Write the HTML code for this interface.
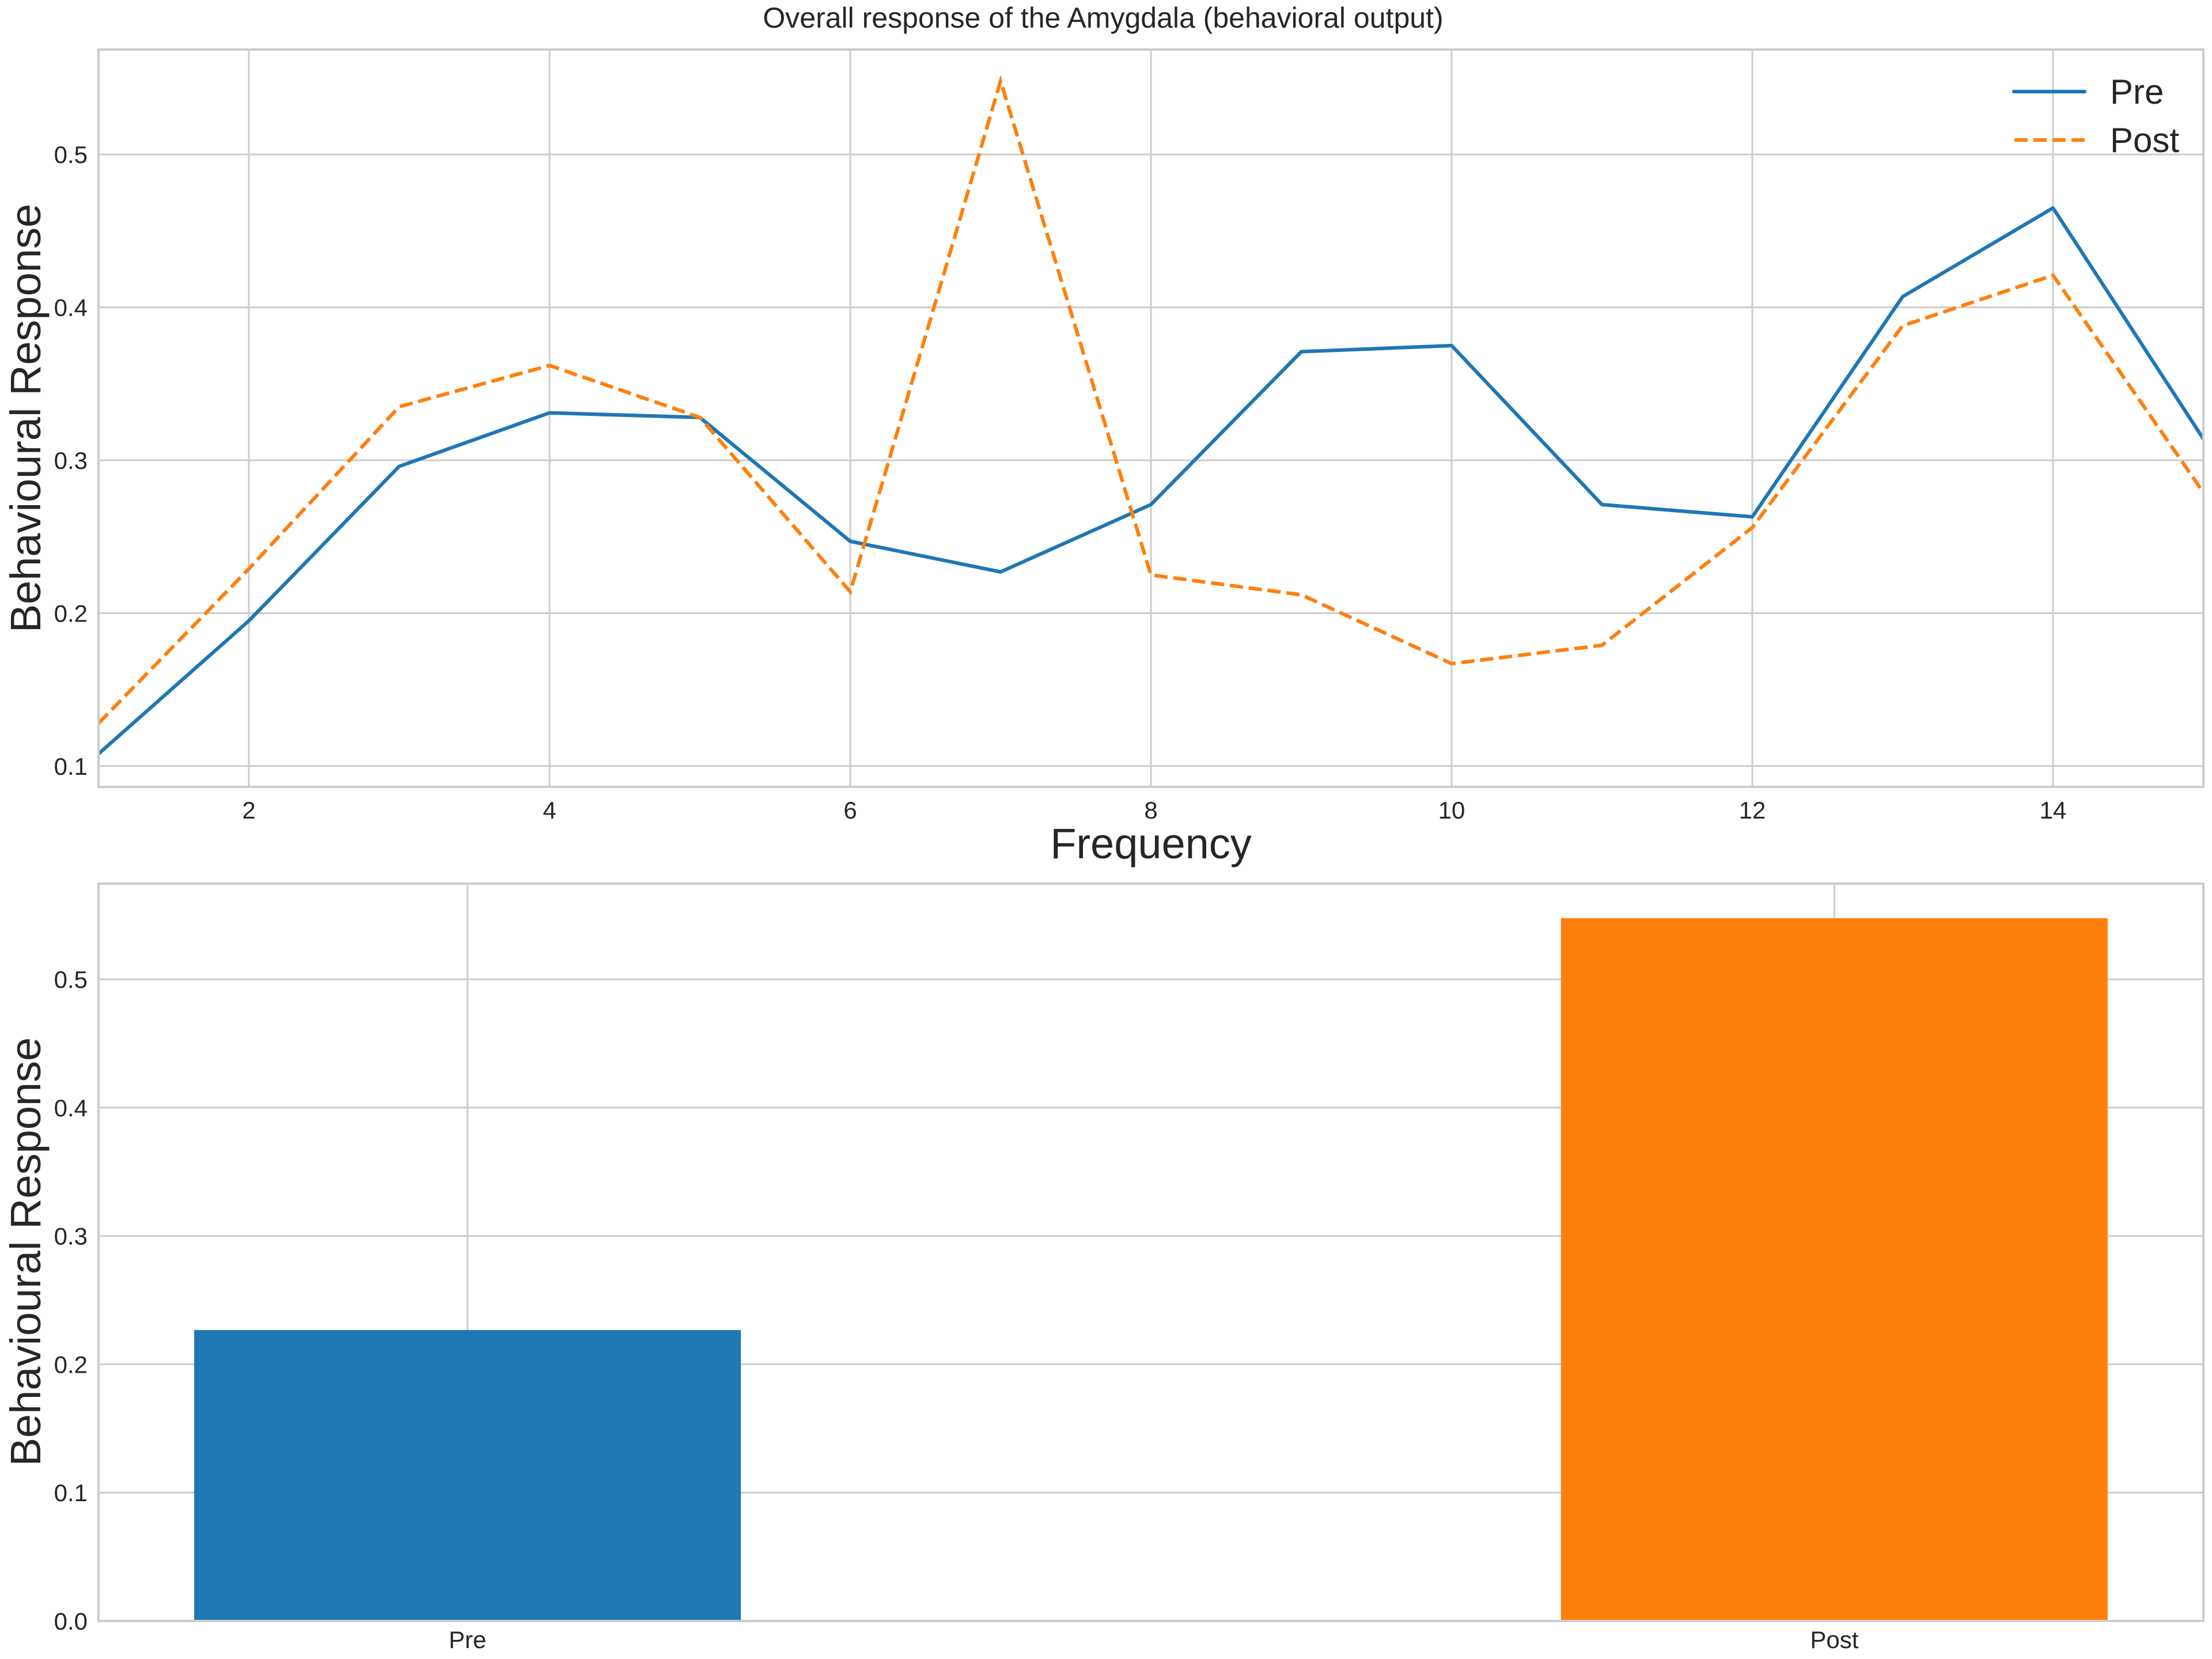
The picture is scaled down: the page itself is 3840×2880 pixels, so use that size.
<!DOCTYPE html>
<html><head><meta charset="utf-8"><style>
html,body{margin:0;padding:0;background:#fff}
svg{display:block}
text{font-family:"Liberation Sans",Arial,sans-serif;fill:#262626}
</style></head><body>
<svg id="chart" width="3840" height="2880" viewBox="0 0 3840 2880" xmlns="http://www.w3.org/2000/svg">
<text x="1915" y="48" font-size="50" text-anchor="middle">Overall response of the Amygdala (behavioral output)</text>
<g id="top"></g>
<g id="bottom"></g>
</svg>
<script>
const freqs = [1,2,3,4,5,6,7,8,9,10,11,12,13,14,15];
const preValues = [0.108,0.195,0.296,0.331,0.328,0.247,0.227,0.271,0.371,0.375,0.271,0.263,0.407,0.465,0.314];
const postValues = [0.128,0.229,0.335,0.362,0.328,0.214,0.548,0.225,0.212,0.167,0.179,0.256,0.388,0.421,0.279];
const topXTicks = [2,4,6,8,10,12,14];
const topYTicks = [0.1,0.2,0.3,0.4,0.5];
const barCategories = ["Pre","Post"];
const barValues = [0.2267,0.5476];
const barYTicks = [0,0.1,0.2,0.3,0.4,0.5];

const NS="http://www.w3.org/2000/svg";
function mk(parent,tag,attrs){const e=document.createElementNS(NS,tag);for(const k in attrs)e.setAttribute(k,attrs[k]);parent.appendChild(e);return e;}

// Top axes
const T={l:171,r:3825,t:86,b:1366,x0:1,x1:15,y0:0.0864,y1:0.5686};
const tx=v=>T.l+(v-T.x0)/(T.x1-T.x0)*(T.r-T.l);
const ty=v=>T.b-(v-T.y0)/(T.y1-T.y0)*(T.b-T.t);
const gTop=document.getElementById('top');


topXTicks.forEach(v=>{
  const l=mk(gTop,'line',{x1:tx(v),x2:tx(v),y1:T.t,y2:T.b,stroke:'#cccccc','stroke-width':3});
  
  
  const t=mk(gTop,'text',{x:tx(v),y:1421,'font-size':42,'text-anchor':'middle'});t.textContent=v;
  
  
});
topYTicks.forEach(v=>{
  const l=mk(gTop,'line',{x1:T.l,x2:T.r,y1:ty(v),y2:ty(v),stroke:'#cccccc','stroke-width':3});
  
  
  const t=mk(gTop,'text',{x:152,y:ty(v)+15,'font-size':42,'text-anchor':'end'});t.textContent=v.toFixed(1);
  
  
});
const clipDef=mk(gTop,'clipPath',{id:'clipTop'});mk(clipDef,'rect',{x:T.l,y:T.t,width:T.r-T.l,height:T.b-T.t});
const prePath=mk(gTop,'polyline',{points:freqs.map((f,i)=>tx(f)+','+ty(preValues[i])).join(' '),fill:'none',stroke:'#1f77b4','stroke-width':6.2,'stroke-linejoin':'round','clip-path':'url(#clipTop)'});


const postPath=mk(gTop,'polyline',{points:freqs.map((f,i)=>tx(f)+','+ty(postValues[i])).join(' '),fill:'none',stroke:'#ff7f0e','stroke-width':6.2,'stroke-dasharray':'23 10','clip-path':'url(#clipTop)'});


const frame1=mk(gTop,'rect',{x:T.l,y:T.t,width:T.r-T.l,height:T.b-T.t,fill:'none',stroke:'#cccccc','stroke-width':4});


const xl=mk(gTop,'text',{x:(T.l+T.r)/2,y:1490,'font-size':74,'text-anchor':'middle'});xl.textContent='Frequency';


const yl=mk(gTop,'text',{x:0,y:0,'font-size':74,'text-anchor':'middle',transform:'translate(70,726) rotate(-90)'});yl.textContent='Behavioural Response';


// legend
const lg=mk(gTop,'g',{});


const le1=mk(lg,'line',{x1:3496,x2:3619,y1:159,y2:159,stroke:'#1f77b4','stroke-width':6.2,'stroke-linecap':'round'});


const lt1=mk(lg,'text',{x:3663,y:180,'font-size':60});lt1.textContent='Pre';


const le2=mk(lg,'line',{x1:3497,x2:3619,y1:243,y2:243,stroke:'#ff7f0e','stroke-width':6.2,'stroke-dasharray':'23 10'});


const lt2=mk(lg,'text',{x:3663,y:264,'font-size':60});lt2.textContent='Post';



// Bottom axes
const B={l:171,r:3825,t:1534,b:2814,x0:-0.27,x1:1.27,y0:0,y1:0.5745};
const bx=v=>B.l+(v-B.x0)/(B.x1-B.x0)*(B.r-B.l);
const by=v=>B.b-(v-B.y0)/(B.y1-B.y0)*(B.b-B.t);
const gB=document.getElementById('bottom');


barCategories.forEach((c,i)=>{
  const l=mk(gB,'line',{x1:bx(i),x2:bx(i),y1:B.t,y2:B.b,stroke:'#cccccc','stroke-width':3});
  
  
  const t=mk(gB,'text',{x:bx(i),y:2861,'font-size':42,'text-anchor':'middle'});t.textContent=c;
  
  
});
barYTicks.forEach(v=>{
  const l=mk(gB,'line',{x1:B.l,x2:B.r,y1:by(v),y2:by(v),stroke:'#cccccc','stroke-width':3});
  
  
  const t=mk(gB,'text',{x:152,y:by(v)+15,'font-size':42,'text-anchor':'end'});t.textContent=v.toFixed(1);
  
  
});
const colors=['#1f77b4','#ff7f0e'];
barValues.forEach((v,i)=>{
  const r=mk(gB,'rect',{x:bx(i-0.2),y:by(v),width:bx(i+0.2)-bx(i-0.2),height:by(0)-by(v),fill:colors[i]});
  
  
});
const frame2=mk(gB,'rect',{x:B.l,y:B.t,width:B.r-B.l,height:B.b-B.t,fill:'none',stroke:'#cccccc','stroke-width':4});


const yl2=mk(gB,'text',{x:0,y:0,'font-size':74,'text-anchor':'middle',transform:'translate(70,2173) rotate(-90)'});yl2.textContent='Behavioural Response';


</script>
</body></html>
